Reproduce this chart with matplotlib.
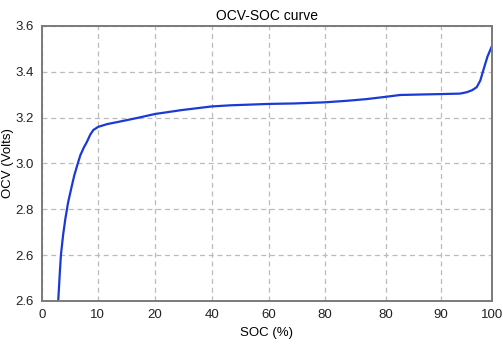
import matplotlib
matplotlib.use('Agg')
import matplotlib.pyplot as plt

# OCV-SOC curve, points
soc = [3.6, 3.75, 3.95, 4.2, 4.7, 5.2, 5.8, 6.6, 7.2, 7.8, 8.5, 9.3, 10.0, 10.7, 11.4,
       12.5, 14.5, 17.3, 21.0, 25.1, 31.0, 37.7, 42.0, 46.2, 50.4, 56.0, 62.9, 68.0,
       72.1, 76.4, 79.6, 84.0, 88.7, 92.9, 94.4, 95.6, 96.6, 97.4, 98.1, 99.0, 100.0]
ocv = [2.40, 2.45, 2.52, 2.60, 2.69, 2.76, 2.83, 2.90, 2.95, 2.99, 3.035, 3.07, 3.095, 3.125, 3.146,
       3.16, 3.172, 3.183, 3.198, 3.216, 3.233, 3.249, 3.254, 3.257, 3.260, 3.262, 3.267, 3.274,
       3.281, 3.291, 3.299, 3.301, 3.303, 3.305, 3.311, 3.320, 3.333, 3.362, 3.409, 3.467, 3.513]

xtick_pos = [0, 12.4, 25.1, 37.8, 50.4, 62.9, 76.4, 88.7, 100]
xtick_labels = ['0', '10', '20', '40', '60', '80', '80', '90', '100']
ytick_pos = [2.4, 2.6, 2.8, 3.0, 3.2, 3.4, 3.6]
ytick_labels = ['2.6', '2.6', '2.8', '3.0', '3.2', '3.4', '3.6']

plt.rcParams['font.family'] = ['Liberation Sans', 'DejaVu Sans']
plt.rcParams['font.size'] = 9.5

fig = plt.figure(figsize=(5.03, 3.6), dpi=100)
ax = fig.add_axes([42 / 503, 1 - 301 / 360, 450 / 503, 275 / 360])

ax.plot(soc, ocv, color='#1a3ad6', linewidth=1.6)

ax.set_xlim(0, 100)
ax.set_ylim(2.4, 3.6)
ax.set_xticks(xtick_pos)
ax.set_xticklabels(xtick_labels)
ax.set_yticks(ytick_pos)
ax.set_yticklabels(ytick_labels)
ax.tick_params(length=0, pad=6, colors='#222222')
ax.grid(True, linestyle=(0, (4, 3)), color='#bbbbbb', linewidth=0.9)
for s in ax.spines.values():
    s.set_color('#7a7a7a')
    s.set_linewidth(1.4)

ax.set_title('OCV-SOC curve', fontsize=10, pad=4)
ax.set_xlabel('SOC (%)', labelpad=4)
ax.set_ylabel('OCV (Volts)', labelpad=1)

fig.savefig('out.png', dpi=100)
